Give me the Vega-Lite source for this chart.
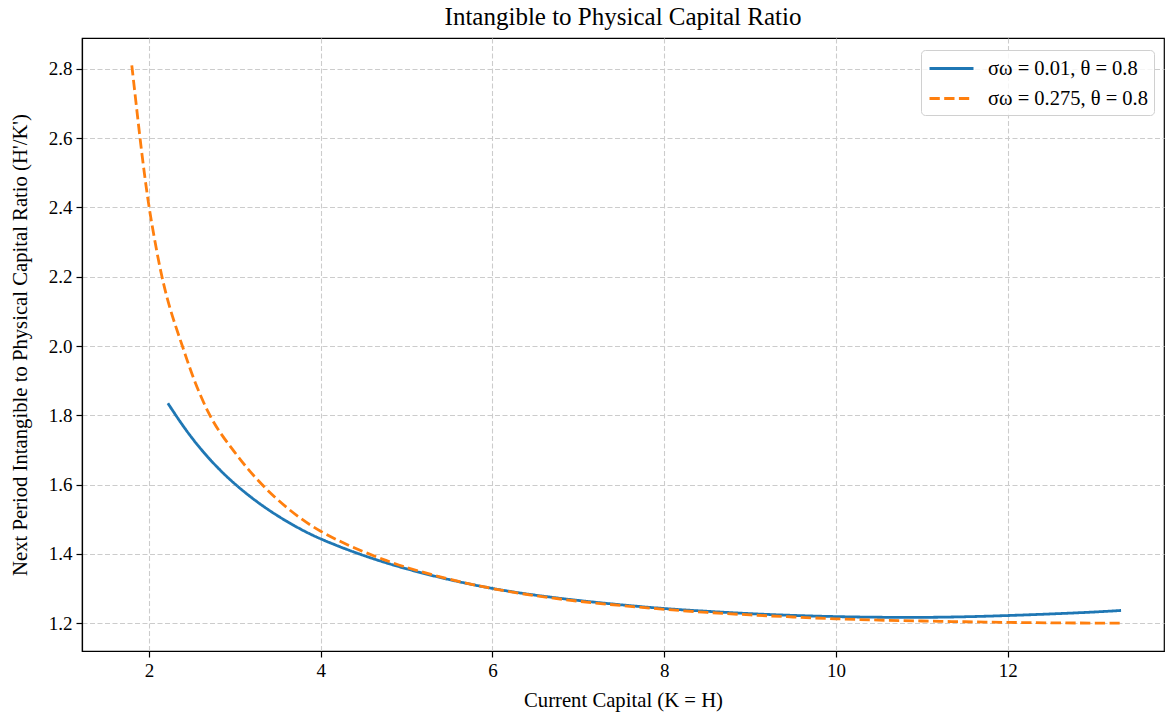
{
  "$schema": "https://vega.github.io/schema/vega-lite/v6.json",
  "width": 1082,
  "height": 613,
  "autosize": {"type": "none"},
  "padding": {"left": 82, "top": 38, "right": 2, "bottom": 64},
  "background": "white",
  "title": {
    "text": "Intangible to Physical Capital Ratio",
    "font": "Liberation Serif",
    "fontSize": 25,
    "fontWeight": "normal",
    "color": "black",
    "offset": 8
  },
  "config": {
    "view": {"stroke": "black", "strokeWidth": 1.2},
    "axis": {
      "domainColor": "black",
      "domainWidth": 1.2,
      "tickColor": "black",
      "tickWidth": 1.2,
      "tickSize": 6,
      "gridColor": "#cccccc",
      "gridDash": [5, 2.5],
      "gridWidth": 1.1,
      "labelFont": "Liberation Serif",
      "labelFontSize": 19,
      "labelColor": "black",
      "titleFont": "Liberation Serif",
      "titleFontSize": 20.7,
      "titleFontWeight": "normal",
      "titleColor": "black"
    }
  },
  "data": {
    "values": [
      {"x": 2.22, "y": 1.835, "series": "σω = 0.01, θ = 0.8"},
      {"x": 2.4, "y": 1.767, "series": "σω = 0.01, θ = 0.8"},
      {"x": 2.6, "y": 1.7025, "series": "σω = 0.01, θ = 0.8"},
      {"x": 2.8, "y": 1.648, "series": "σω = 0.01, θ = 0.8"},
      {"x": 3.0, "y": 1.601, "series": "σω = 0.01, θ = 0.8"},
      {"x": 3.25, "y": 1.551, "series": "σω = 0.01, θ = 0.8"},
      {"x": 3.5, "y": 1.509, "series": "σω = 0.01, θ = 0.8"},
      {"x": 3.75, "y": 1.473, "series": "σω = 0.01, θ = 0.8"},
      {"x": 4.0, "y": 1.442, "series": "σω = 0.01, θ = 0.8"},
      {"x": 4.5, "y": 1.394, "series": "σω = 0.01, θ = 0.8"},
      {"x": 5.0, "y": 1.356, "series": "σω = 0.01, θ = 0.8"},
      {"x": 5.5, "y": 1.325, "series": "σω = 0.01, θ = 0.8"},
      {"x": 6.0, "y": 1.2995, "series": "σω = 0.01, θ = 0.8"},
      {"x": 6.5, "y": 1.2805, "series": "σω = 0.01, θ = 0.8"},
      {"x": 7.0, "y": 1.2655, "series": "σω = 0.01, θ = 0.8"},
      {"x": 7.5, "y": 1.253, "series": "σω = 0.01, θ = 0.8"},
      {"x": 8.0, "y": 1.242, "series": "σω = 0.01, θ = 0.8"},
      {"x": 8.5, "y": 1.2345, "series": "σω = 0.01, θ = 0.8"},
      {"x": 9.0, "y": 1.2275, "series": "σω = 0.01, θ = 0.8"},
      {"x": 9.5, "y": 1.2225, "series": "σω = 0.01, θ = 0.8"},
      {"x": 10.0, "y": 1.219, "series": "σω = 0.01, θ = 0.8"},
      {"x": 10.5, "y": 1.2172, "series": "σω = 0.01, θ = 0.8"},
      {"x": 11.0, "y": 1.2167, "series": "σω = 0.01, θ = 0.8"},
      {"x": 11.5, "y": 1.2185, "series": "σω = 0.01, θ = 0.8"},
      {"x": 12.0, "y": 1.2222, "series": "σω = 0.01, θ = 0.8"},
      {"x": 12.5, "y": 1.2268, "series": "σω = 0.01, θ = 0.8"},
      {"x": 13.0, "y": 1.2322, "series": "σω = 0.01, θ = 0.8"},
      {"x": 13.32, "y": 1.237, "series": "σω = 0.01, θ = 0.8"},
      {"x": 1.80, "y": 2.81, "series": "σω = 0.275, θ = 0.8"},
      {"x": 1.85, "y": 2.70, "series": "σω = 0.275, θ = 0.8"},
      {"x": 1.895, "y": 2.60, "series": "σω = 0.275, θ = 0.8"},
      {"x": 1.95, "y": 2.49, "series": "σω = 0.275, θ = 0.8"},
      {"x": 2.0, "y": 2.40, "series": "σω = 0.275, θ = 0.8"},
      {"x": 2.07, "y": 2.30, "series": "σω = 0.275, θ = 0.8"},
      {"x": 2.147, "y": 2.20, "series": "σω = 0.275, θ = 0.8"},
      {"x": 2.25, "y": 2.10, "series": "σω = 0.275, θ = 0.8"},
      {"x": 2.39, "y": 2.00, "series": "σω = 0.275, θ = 0.8"},
      {"x": 2.516, "y": 1.905, "series": "σω = 0.275, θ = 0.8"},
      {"x": 2.69, "y": 1.805, "series": "σω = 0.275, θ = 0.8"},
      {"x": 2.83, "y": 1.748, "series": "σω = 0.275, θ = 0.8"},
      {"x": 3.0, "y": 1.693, "series": "σω = 0.275, θ = 0.8"},
      {"x": 3.14, "y": 1.648, "series": "σω = 0.275, θ = 0.8"},
      {"x": 3.31, "y": 1.601, "series": "σω = 0.275, θ = 0.8"},
      {"x": 3.5, "y": 1.555, "series": "σω = 0.275, θ = 0.8"},
      {"x": 3.75, "y": 1.504, "series": "σω = 0.275, θ = 0.8"},
      {"x": 4.0, "y": 1.464, "series": "σω = 0.275, θ = 0.8"},
      {"x": 4.25, "y": 1.433, "series": "σω = 0.275, θ = 0.8"},
      {"x": 4.5, "y": 1.406, "series": "σω = 0.275, θ = 0.8"},
      {"x": 4.75, "y": 1.382, "series": "σω = 0.275, θ = 0.8"},
      {"x": 5.0, "y": 1.360, "series": "σω = 0.275, θ = 0.8"},
      {"x": 5.5, "y": 1.326, "series": "σω = 0.275, θ = 0.8"},
      {"x": 6.0, "y": 1.299, "series": "σω = 0.275, θ = 0.8"},
      {"x": 6.5, "y": 1.279, "series": "σω = 0.275, θ = 0.8"},
      {"x": 7.0, "y": 1.263, "series": "σω = 0.275, θ = 0.8"},
      {"x": 7.5, "y": 1.251, "series": "σω = 0.275, θ = 0.8"},
      {"x": 8.0, "y": 1.240, "series": "σω = 0.275, θ = 0.8"},
      {"x": 8.5, "y": 1.231, "series": "σω = 0.275, θ = 0.8"},
      {"x": 9.0, "y": 1.224, "series": "σω = 0.275, θ = 0.8"},
      {"x": 9.5, "y": 1.218, "series": "σω = 0.275, θ = 0.8"},
      {"x": 10.0, "y": 1.2127, "series": "σω = 0.275, θ = 0.8"},
      {"x": 10.5, "y": 1.209, "series": "σω = 0.275, θ = 0.8"},
      {"x": 11.0, "y": 1.2065, "series": "σω = 0.275, θ = 0.8"},
      {"x": 11.5, "y": 1.2043, "series": "σω = 0.275, θ = 0.8"},
      {"x": 12.0, "y": 1.2025, "series": "σω = 0.275, θ = 0.8"},
      {"x": 12.5, "y": 1.2012, "series": "σω = 0.275, θ = 0.8"},
      {"x": 13.0, "y": 1.2005, "series": "σω = 0.275, θ = 0.8"},
      {"x": 13.32, "y": 1.2003, "series": "σω = 0.275, θ = 0.8"}
    ]
  },
  "mark": {"type": "line", "strokeWidth": 2.8, "strokeCap": "butt", "interpolate": "basis"},
  "encoding": {
    "x": {
      "field": "x",
      "type": "quantitative",
      "scale": {"domain": [1.22, 13.82], "nice": false, "zero": false},
      "axis": {
        "title": "Current Capital (K = H)",
        "values": [2, 4, 6, 8, 10, 12],
        "format": "d",
        "labelPadding": 4,
        "titlePadding": 10
      }
    },
    "y": {
      "field": "y",
      "type": "quantitative",
      "scale": {"domain": [1.12, 2.889], "nice": false, "zero": false},
      "axis": {
        "title": "Next Period Intangible to Physical Capital Ratio (H'/K')",
        "values": [1.2, 1.4, 1.6, 1.8, 2.0, 2.2, 2.4, 2.6, 2.8],
        "format": ".1f",
        "labelPadding": 4,
        "titlePadding": 18
      }
    },
    "color": {
      "field": "series",
      "type": "nominal",
      "scale": {
        "domain": ["σω = 0.01, θ = 0.8", "σω = 0.275, θ = 0.8"],
        "range": ["#1f77b4", "#ff7f0e"]
      },
      "legend": {
        "title": null,
        "orient": "none",
        "legendX": 839,
        "legendY": 12,
        "padding": 6,
        "fillColor": "rgba(255,255,255,0.8)",
        "strokeColor": "#d0d0d0",
        "cornerRadius": 4,
        "symbolType": "M-2,0H2",
        "symbolSize": 484,
        "symbolOffset": 12,
        "symbolStrokeWidth": 2.8,
        "labelFont": "Liberation Serif",
        "labelFontSize": 20.5,
        "labelColor": "black",
        "labelOffset": 24,
        "rowPadding": 7
      }
    },
    "strokeDash": {
      "field": "series",
      "type": "nominal",
      "scale": {
        "domain": ["σω = 0.01, θ = 0.8", "σω = 0.275, θ = 0.8"],
        "range": [[1, 0], [10.3, 4.4]]
      },
      "legend": {
        "title": null,
        "orient": "none",
        "legendX": 839,
        "legendY": 12,
        "padding": 6,
        "fillColor": "rgba(255,255,255,0.8)",
        "strokeColor": "#d0d0d0",
        "cornerRadius": 4,
        "symbolType": "M-2,0H2",
        "symbolSize": 484,
        "symbolOffset": 12,
        "symbolStrokeWidth": 2.8,
        "labelFont": "Liberation Serif",
        "labelFontSize": 20.5,
        "labelColor": "black",
        "labelOffset": 24,
        "rowPadding": 7
      }
    }
  }
}
